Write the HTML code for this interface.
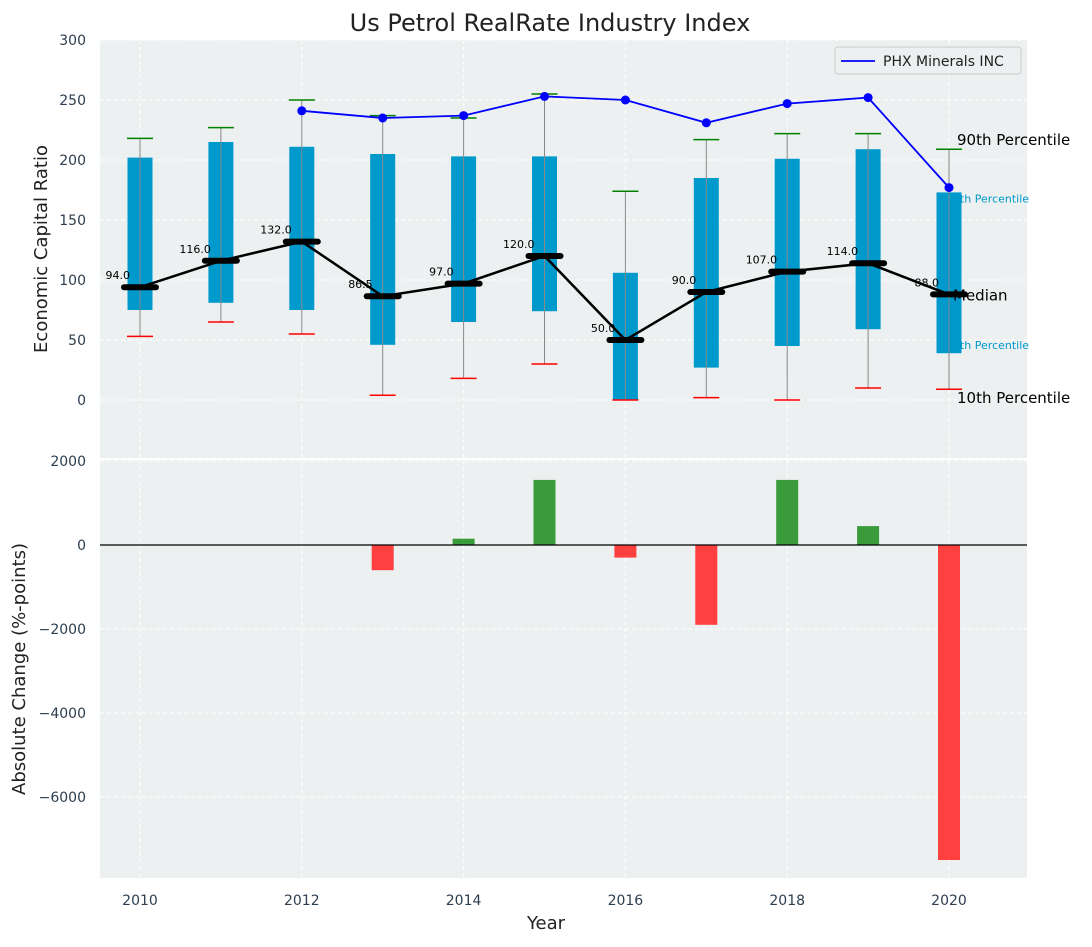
<!DOCTYPE html>
<html><head><meta charset="utf-8">
<style>
body{margin:0;background:#fff;}
svg text{font-family:"DejaVu Sans","Liberation Sans",sans-serif;}
</style></head>
<body>
<svg id="chart" width="1092" height="942" viewBox="0 0 1092 942" xmlns="http://www.w3.org/2000/svg"></svg>
<script>
const years=[2010,2011,2012,2013,2014,2015,2016,2017,2018,2019,2020];
const p10=[53,65,55,4,18,30,0,2,0,10,9];
const p25=[75,81,75,46,65,74,0,27,45,59,39];
const median=[94,116,132,86.5,97,120,50,90,107,114,88];
const p75=[202,215,211,205,203,203,106,185,201,209,173];
const p90=[218,227,250,237,235,255,174,217,222,222,209];
const phxYears=[2012,2013,2014,2015,2016,2017,2018,2019,2020];
const phxValues=[241,235,237,253,250,231,247,252,177];
const changeYears=[2013,2014,2015,2016,2017,2018,2019,2020];
const changeValues=[-600,150,1550,-300,-1900,1550,450,-7500];
const yTicksTop=[0,50,100,150,200,250,300];
const yTicksBottom=[-6000,-4000,-2000,0,2000];
const xTicks=[2010,2012,2014,2016,2018,2020];

const NS="http://www.w3.org/2000/svg";
const svg=document.getElementById('chart');
function el(tag,attrs,parent){const e=document.createElementNS(NS,tag);for(const k in attrs)e.setAttribute(k,attrs[k]);(parent||svg).appendChild(e);return e;}
const L=100,R=1027,T1=40,B1=458,T2=460,B2=878;
const x=v=>140+(v-2010)*80.9;
const y1=v=>400-v*1.2;
const y2=v=>545-v*0.042;

let e=el('rect',{x:L,y:T1,width:R-L,height:B1-T1,fill:'#ecf0f1'});

e=el('rect',{x:L,y:T2,width:R-L,height:B2-T2,fill:'#ecf0f1'});


xTicks.forEach(t=>{
 [[T1,B1],[T2,B2]].forEach(([a,b])=>{const g=el('line',{x1:x(t),x2:x(t),y1:a,y2:b,stroke:'#fff','stroke-dasharray':'4,3','stroke-width':1});
 });
 const tx=el('text',{x:x(t),y:905,'text-anchor':'middle','font-size':14,fill:'#2c3e50'});tx.textContent=t;
 
});
yTicksTop.forEach(t=>{
 const g=el('line',{x1:L,x2:R,y1:y1(t),y2:y1(t),stroke:'#fff','stroke-dasharray':'4,3'});
 
 const tx=el('text',{x:86,y:y1(t)+5,'text-anchor':'end','font-size':14,fill:'#2c3e50'});tx.textContent=t;
 
});
yTicksBottom.forEach(t=>{
 const g=el('line',{x1:L,x2:R,y1:y2(t),y2:y2(t),stroke:'#fff','stroke-dasharray':'4,3'});
 
 const tx=el('text',{x:86,y:y2(t)+5,'text-anchor':'end','font-size':14,fill:'#2c3e50'});tx.textContent=(t<0?'\u2212'+(-t):t);
 
});

const last=years.length-1;
[['90th Percentile',p90[last],'#000',15,957,-4],['75th Percentile',p75[last],'#0099cc',11,946,10],['25th Percentile',p25[last],'#0099cc',11,946,-4],['10th Percentile',p10[last],'#000',15,957,14]].forEach(([s,v,c,fs,xx,off])=>{
 const tx=el('text',{x:xx,y:y1(v)+off,'font-size':fs,fill:c});
 tx.textContent=s;
});

years.forEach((yr,i)=>{
 const cx=x(yr);
 let b=el('rect',{x:cx-12.5,y:y1(p75[i]),width:25,height:y1(p25[i])-y1(p75[i]),fill:'#0099cc'});
 
 let w=el('line',{x1:cx,x2:cx,y1:y1(p90[i]),y2:y1(p10[i]),stroke:'#888','stroke-width':1});
 
 let c=el('line',{x1:cx-13,x2:cx+13,y1:y1(p90[i]),y2:y1(p90[i]),stroke:'green','stroke-width':1.5});
 
 c=el('line',{x1:cx-13,x2:cx+13,y1:y1(p10[i]),y2:y1(p10[i]),stroke:'red','stroke-width':1.5});
 
});

let pts=phxYears.map((yr,i)=>x(yr)+','+y1(phxValues[i])).join(' ');
e=el('polyline',{points:pts,fill:'none',stroke:'blue','stroke-width':1.8});

phxYears.forEach((yr,i)=>{const d=el('circle',{cx:x(yr),cy:y1(phxValues[i]),r:4.5,fill:'blue'});
 });

pts=years.map((yr,i)=>x(yr)+','+y1(median[i])).join(' ');
e=el('polyline',{points:pts,fill:'none',stroke:'#000','stroke-width':2.5});

years.forEach((yr,i)=>{
 const m=el('line',{x1:x(yr)-16,x2:x(yr)+16,y1:y1(median[i]),y2:y1(median[i]),stroke:'#000','stroke-width':6,'stroke-linecap':'round'});
 
 const t=el('text',{x:x(yr)-10,y:y1(median[i])-8,'text-anchor':'end','font-size':11,fill:'#000'});t.textContent=median[i].toFixed(1);
 
});
e=el('text',{x:953,y:y1(median[last])+6,'font-size':15,fill:'#000'});e.textContent='Median';


changeYears.forEach((yr,i)=>{
 const v=changeValues[i];
 const b=el('rect',{x:x(yr)-11,y:Math.min(y2(v),y2(0)),width:22,height:Math.abs(y2(v)-y2(0)),fill:v>=0?'#3a9b3a':'#ff4040'});
 
});
e=el('line',{x1:L,x2:R,y1:y2(0),y2:y2(0),stroke:'#000','stroke-width':1.2});


const lg=el('g',{});
el('rect',{x:835,y:47,width:186,height:27,rx:3,fill:'#ecf0f1',stroke:'#ccc'},lg);
el('line',{x1:841,x2:875,y1:61,y2:61,stroke:'blue','stroke-width':1.8},lg);
e=el('text',{x:883,y:66,'font-size':14,fill:'#222'},lg);e.textContent='PHX Minerals INC';


e=el('text',{x:550,y:31,'text-anchor':'middle','font-size':24,fill:'#222'});e.textContent='Us Petrol RealRate Industry Index';

e=el('text',{x:546,y:929,'text-anchor':'middle','font-size':18,fill:'#222'});e.textContent='Year';

e=el('text',{x:47,y:249,'text-anchor':'middle','font-size':18,fill:'#222',transform:'rotate(-90 47 249)'});e.textContent='Economic Capital Ratio';

e=el('text',{x:25,y:669,'text-anchor':'middle','font-size':18,fill:'#222',transform:'rotate(-90 25 669)'});e.textContent='Absolute Change (%-points)';

</script>
</body></html>
